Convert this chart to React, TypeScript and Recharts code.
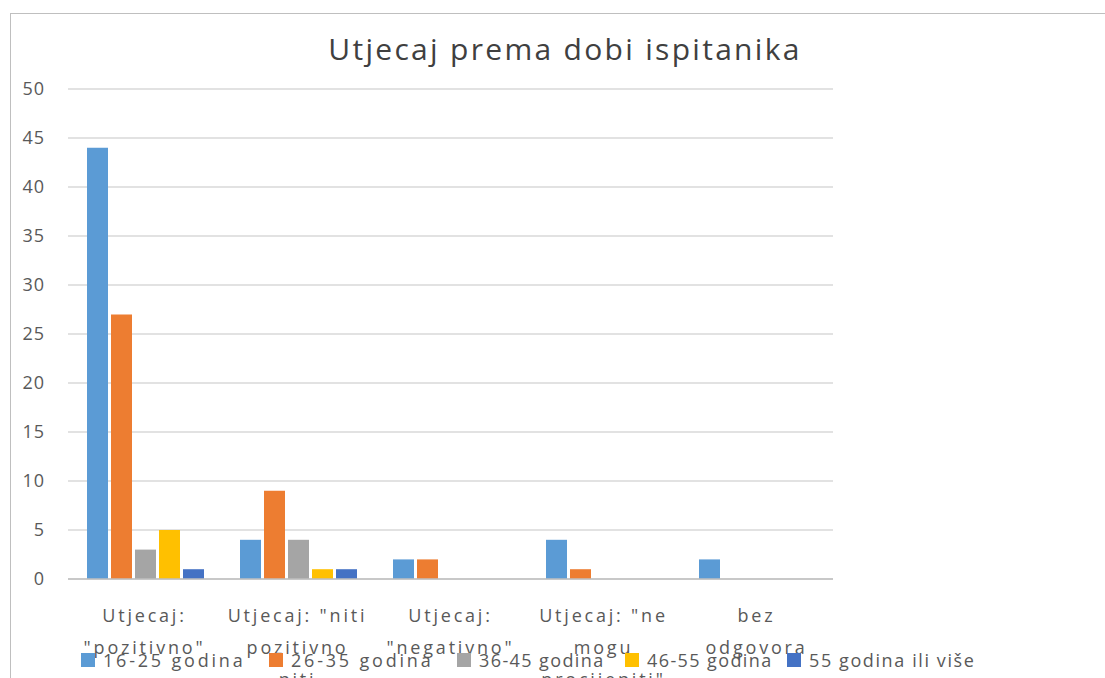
import React from 'react'
import { BarChart, Bar, XAxis, YAxis, CartesianGrid, Legend } from 'recharts'

const categories = [
    'Utjecaj: "pozitivno"',
    'Utjecaj: "niti pozitivno niti negativno"',
    'Utjecaj: "negativno"',
    'Utjecaj: "ne mogu procijeniti"',
    'bez odgovora',
]

// wrapped lines as in the original axis
const categoryLines = [
    ['Utjecaj:', '"pozitivno"'],
    ['Utjecaj: "niti', 'pozitivno', 'niti', 'negativno"'],
    ['Utjecaj:', '"negativno"'],
    ['Utjecaj: "ne', 'mogu', 'procijeniti"'],
    ['bez', 'odgovora'],
]

const age16_25 = [44, 4, 2, 4, 2]
const age26_35 = [27, 9, 2, 1, 0]
const age36_45 = [3, 4, 0, 0, 0]
const age46_55 = [5, 1, 0, 0, 0]
const age55plus = [1, 1, 0, 0, 0]

const yTicks = [0, 5, 10, 15, 20, 25, 30, 35, 40, 45, 50]

const series = [
    { key: 's1', label: '16-25 godina', color: '#5B9BD5', values: age16_25 },
    { key: 's2', label: '26-35 godina', color: '#ED7D31', values: age26_35 },
    { key: 's3', label: '36-45 godina', color: '#A5A5A5', values: age36_45 },
    { key: 's4', label: '46-55 godina', color: '#FFC000', values: age46_55 },
    { key: 's5', label: '55 godina ili više', color: '#4472C4', values: age55plus },
]

const data = categories.map((name, i) => {
    const row: { [key: string]: string | number } = { name, idx: i }
    series.forEach((s) => { row[s.key] = s.values[i] })
    return row
})

const FONT = '"Open Sans", "Noto Sans", sans-serif'
const legendX = [81, 269, 457, 625, 787]
const legendSpacing = [2.8, 2.8, 1.4, 1.4, 1.6]

const CategoryTick = ({ x, y, payload }: any) => {
    const lines = categoryLines[payload.index] || [payload.value]
    return (
        <g>
            {lines.map((line, i) => (
                <text
                    key={i}
                    x={x}
                    y={y + 35 + i * 32}
                    textAnchor="middle"
                    fill="#595959"
                    fontSize={18}
                    fontFamily={FONT}
                    style={{ letterSpacing: '2.8px' }}
                >
                    {line}
                </text>
            ))}
        </g>
    )
}

const CustomLegend = () => (
    <div style={{ position: 'relative', width: 1105, height: 30, fontFamily: FONT }}>
        {series.map((s, i) => (
            <div
                key={s.key}
                style={{ position: 'absolute', left: legendX[i], top: 0, display: 'flex', alignItems: 'center', whiteSpace: 'nowrap' }}
            >
                <span style={{ width: 14, height: 14, background: s.color, display: 'inline-block', marginRight: 8 }} />
                <span style={{ fontSize: 18, color: '#595959', letterSpacing: legendSpacing[i] + 'px' }}>{s.label}</span>
            </div>
        ))}
    </div>
)

export default function App() {
    return (
        <div style={{ position: 'fixed', left: 0, top: 0, width: 1105, height: 678, overflow: 'hidden', background: '#fff' }}>
            <div style={{ position: 'absolute', left: 10, top: 13, width: 1200, height: 800, borderLeft: '1.5px solid #BFBFBF', borderTop: '1.5px solid #BFBFBF' }} />
            <div style={{ position: 'absolute', left: 0, top: 28, width: 1130, textAlign: 'center', fontFamily: FONT, fontSize: 30, color: '#404040', letterSpacing: '2.3px' }}>
                Utjecaj prema dobi ispitanika
            </div>
            <div style={{ position: 'absolute', left: 0, top: 0 }}>
                <BarChart
                    width={1105}
                    height={678}
                    data={data}
                    margin={{ top: 89, right: 272, bottom: 0, left: 18 }}
                    barCategoryGap={19}
                    barGap={3}
                >
                    <CartesianGrid vertical={false} stroke="#D9D9D9" strokeWidth={1.5} />
                    <XAxis
                        dataKey="name"
                        height={99}
                        axisLine={{ stroke: '#BFBFBF', strokeWidth: 1.5 }}
                        tickLine={false}
                        interval={0}
                        tick={<CategoryTick />}
                    />
                    <YAxis
                        width={50}
                        domain={[0, 50]}
                        ticks={yTicks}
                        axisLine={false}
                        tickLine={false}
                        tickMargin={17}
                        tick={{ fill: '#595959', fontSize: 18, fontFamily: FONT, letterSpacing: 1 }}
                    />
                    <Legend
                        layout="horizontal"
                        align="center"
                        verticalAlign="middle"
                        content={<CustomLegend />}
                        wrapperStyle={{ left: 0, top: 648, bottom: 'auto', width: 1105 }}
                    />
                    {series.map((s) => (
                        <Bar key={s.key} dataKey={s.key} name={s.label} fill={s.color} isAnimationActive={false} />
                    ))}
                </BarChart>
            </div>
        </div>
    )
}
